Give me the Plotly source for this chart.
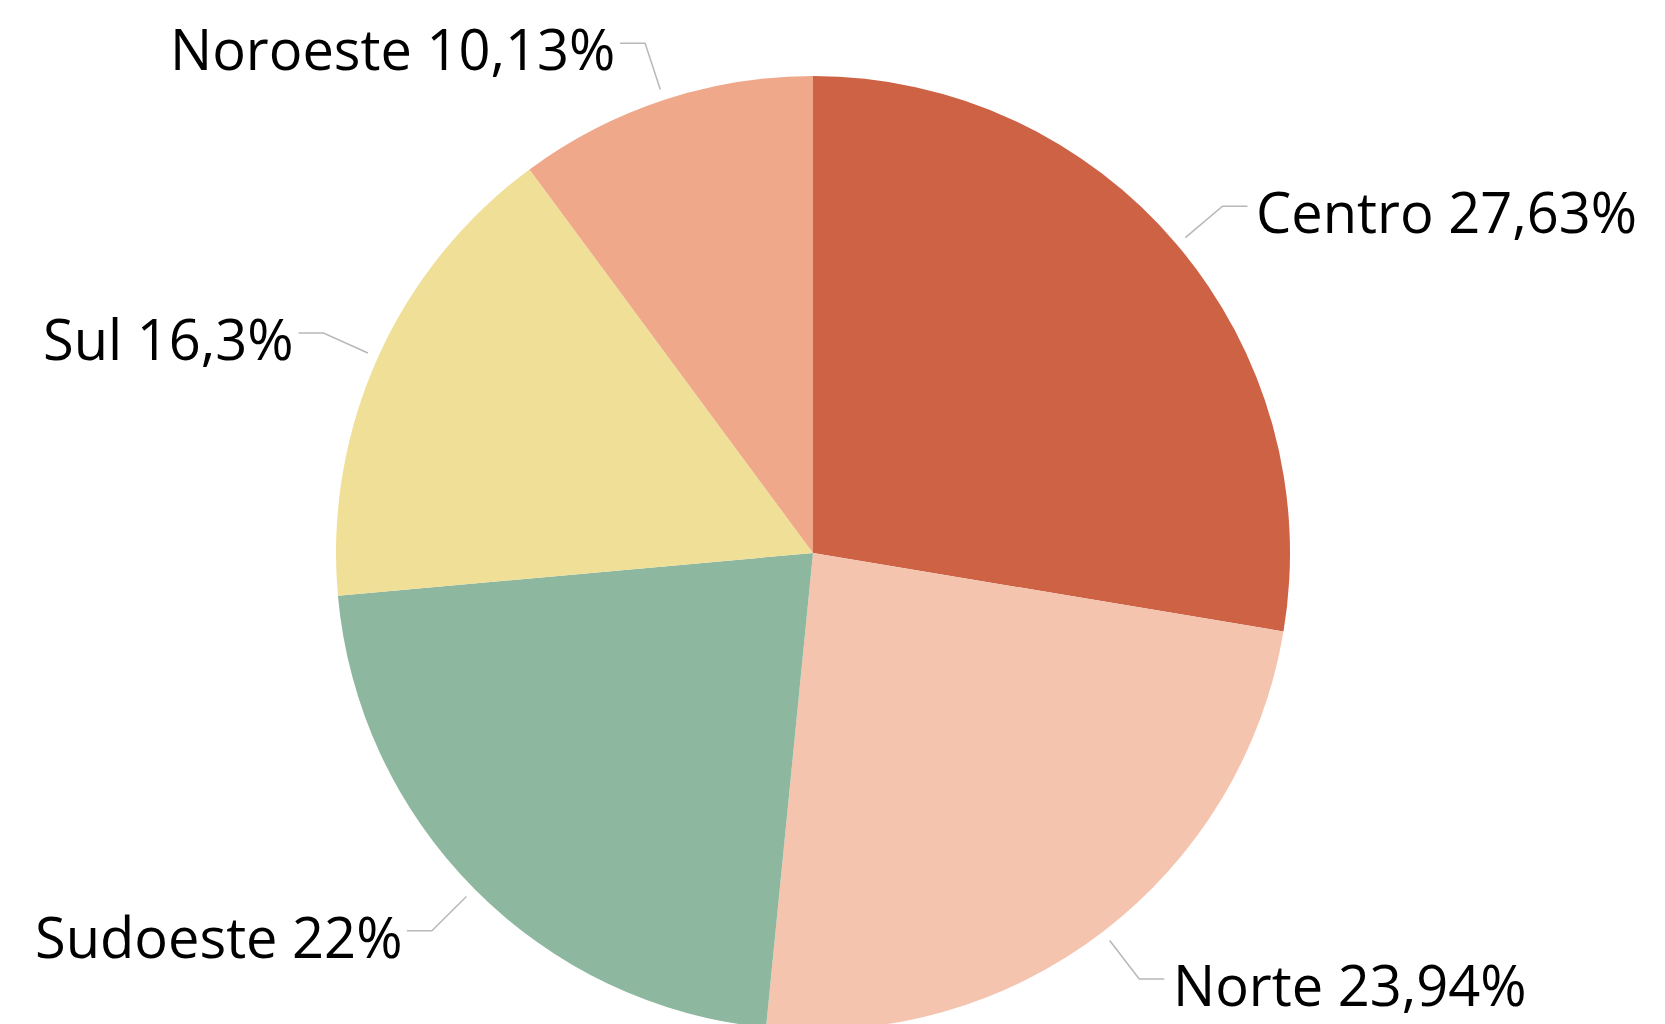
import math
import plotly.graph_objects as go

# ---- data ----
regions = ["Centro", "Norte", "Sudoeste", "Sul", "Noroeste"]
shares = [27.63, 23.94, 22, 16.3, 10.13]
colors = ["#CD6245", "#F4C4AE", "#8DB79F", "#EFDF97", "#EFA889"]

# ---- layout constants (pixels) ----
W, H = 1665, 1030             # pie slightly overflows the 1024px window, as in the original
TOP = 76                      # top of the pie
R = (H - TOP) / 2             # radius (pie fills domain height)
CX, CY = 813, TOP + R         # centre
R1, R2 = 1.023 * R, 1.125 * R # leader start / elbow radii
HSEG = 25
GAP_RIGHT, GAP_LEFT = 7, 3
FONT = "Open Sans, Noto Sans, sans-serif"

def px(x):
    return x / W

def py(y):
    return 1 - y / H

fig = go.Figure(go.Pie(
    labels=regions, values=shares, sort=False, direction="clockwise",
    rotation=0, marker=dict(colors=colors, line=dict(width=0)),
    textinfo="none", hoverinfo="label+percent", showlegend=False,
    domain=dict(x=[px(CX - R), px(CX + R)], y=[0, py(TOP)]),
))

total = sum(shares)
cum = 0.0
for name, v in zip(regions, shares):
    mid = (cum + v / 2) / total * 2 * math.pi
    cum += v
    s, c = math.sin(mid), math.cos(mid)
    x1, y1 = CX + R1 * s, CY - R1 * c
    x2, y2 = CX + R2 * s, CY - R2 * c
    side = 1 if s >= 0 else -1
    x3 = x2 + side * HSEG
    gap = GAP_RIGHT if side > 0 else GAP_LEFT
    fig.add_shape(type="path", xref="paper", yref="paper",
                  path=f"M {px(x1)} {py(y1)} L {px(x2)} {py(y2)} L {px(x3)} {py(y2)}",
                  line=dict(color="#B8B8B8", width=1.5))
    label = f"{name} {v:g}%".replace(".", ",")
    fig.add_annotation(x=px(x3 + side * gap), y=py(y2), xref="paper", yref="paper",
                       text=label, showarrow=False,
                       xanchor="left" if side > 0 else "right", yanchor="middle",
                       yshift=-5, font=dict(family=FONT, size=56, color="black"))

fig.update_layout(width=W, height=H, margin=dict(l=0, r=0, t=0, b=0),
                  paper_bgcolor="white", plot_bgcolor="white")
fig.write_html("out.html", config={"displayModeBar": False},
               post_script="document.body.style.margin='0';document.body.style.overflow='hidden';")
